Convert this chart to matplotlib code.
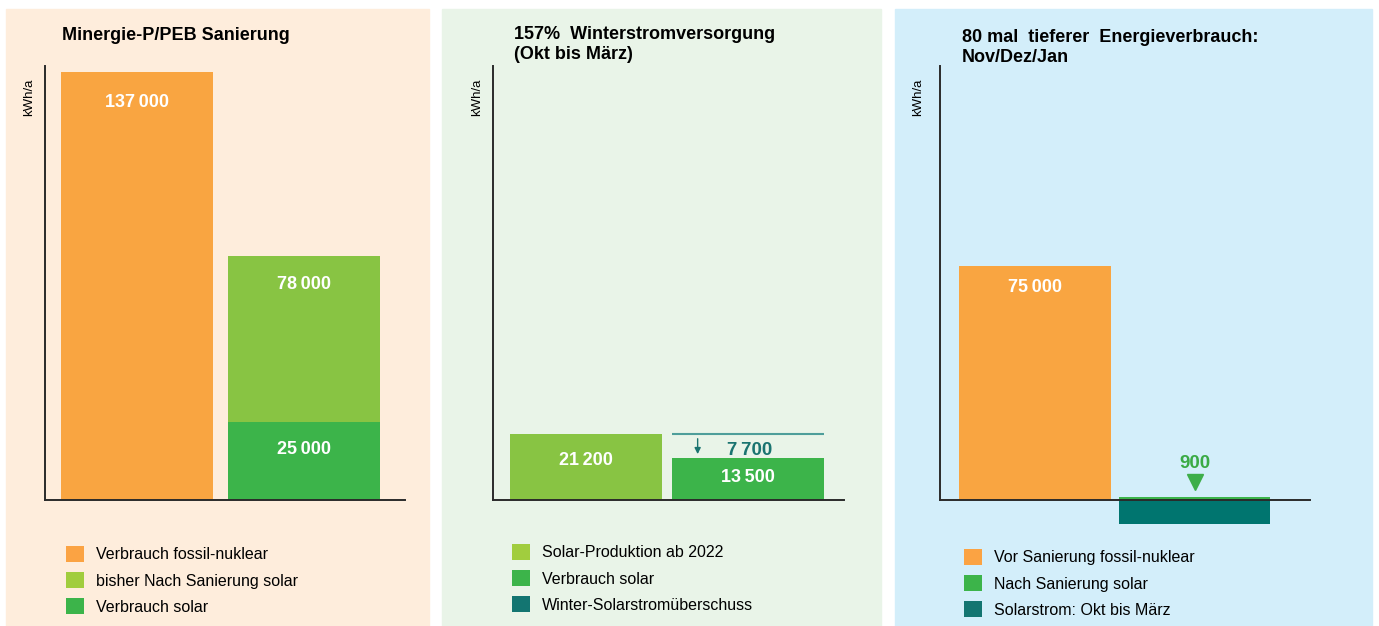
import numpy as np
import matplotlib.pyplot as plt
from matplotlib.patches import Rectangle, Patch

plt.rcParams['font.family'] = ['Liberation Sans', 'DejaVu Sans']

W, H = 1379, 626

# panel 1: Minergie-P/PEB Sanierung
p1_title = 'Minergie-P/PEB Sanierung'
p1_legend = ['Verbrauch fossil-nuklear', 'bisher Nach Sanierung solar', 'Verbrauch solar']
p1_fossil = 137000
p1_solar_total = 78000
p1_solar_used = 25000

# panel 2: Winterstromversorgung
p2_title = '157%  Winterstromversorgung\n(Okt bis März)'
p2_legend = ['Solar-Produktion ab 2022', 'Verbrauch solar', 'Winter-Solarstromüberschuss']
p2_production = 21200
p2_used = 13500
p2_surplus = 7700

# panel 3: Nov/Dez/Jan
p3_title = '80 mal  tieferer  Energieverbrauch:\nNov/Dez/Jan'
p3_legend = ['Vor Sanierung fossil-nuklear', 'Nach Sanierung solar', 'Solarstrom: Okt bis März']
p3_before = 75000
p3_after = 900
p3_winter = -7700

ORANGE = '#F9A541'
LGREEN = '#88C443'
GREEN = '#3CB44A'
TEAL = '#00756F'
LEG_ORANGE = '#FBA343'
LEG_LGREEN = '#A1CD3E'
LEG_TEAL = '#137571'

YMIN, YMAX = -12000, 138900
BW = 1.0


def fmt(v):
    return f'{v:,}'.replace(',', '\u2009')


fig = plt.figure(figsize=(W / 100, H / 100), dpi=100)
fig.patch.set_facecolor('white')

# panel backgrounds
for x0, x1, c in [(6, 429, '#FEEDDC'), (442, 881, '#E9F4E8'), (895, 1372, '#D3EEFA')]:
    fig.add_artist(Rectangle((x0 / W, 0), (x1 - x0) / W, 1 - 9 / H,
                             transform=fig.transFigure, color=c, zorder=-10))


def make_axes(left, right, xlim):
    ax = fig.add_axes([left / W, 1 - 537.5 / H, (right - left) / W, (537.5 - 66) / H])
    ax.set_xlim(xlim)
    ax.set_ylim(YMIN, YMAX)
    ax.patch.set_visible(False)
    for s in ['top', 'right']:
        ax.spines[s].set_visible(False)
    ax.spines['left'].set_bounds(0, YMAX)
    ax.spines['bottom'].set_position(('data', 0))
    for s in ['left', 'bottom']:
        ax.spines[s].set_color('#2a2a2a')
        ax.spines[s].set_linewidth(1.4)
        ax.spines[s].set_zorder(5)
    ax.set_xticks([])
    ax.set_yticks([])
    return ax


def inside(ax, x, v, dy=-28):
    ax.annotate(fmt(v), (x, v), xytext=(0, dy), textcoords='offset pixels',
                ha='center', va='center', color='white', fontsize=13, fontweight='bold')


def legend(ax, colors, labels, x, y):
    handles = [Patch(facecolor=c, edgecolor='none') for c in colors]
    ax.legend(handles, labels, loc='upper left', bbox_to_anchor=(x / W, 1 - y / H),
              bbox_transform=fig.transFigure, frameon=False, fontsize=11.5,
              handlelength=1.15, handleheight=1.15, handletextpad=0.75,
              labelspacing=0.62, borderpad=0, borderaxespad=0)


def headers(x_title, y_title, title, x_unit):
    fig.text(x_title / W, 1 - y_title / H, title, ha='left', va='top',
             fontsize=13, fontweight='bold', linespacing=1.2)
    fig.text(x_unit / W, 1 - 97 / H, 'kWh/a', rotation=90, ha='center', va='center',
             fontsize=9.5)


# ---- panel 1
ax1 = make_axes(45, 405, (-0.605, 1.763))
pos1 = np.array([0, 1.1])
ax1.bar(pos1[0], p1_fossil, BW, color=ORANGE)
ax1.bar(pos1[1], p1_solar_total, BW, color=LGREEN)
ax1.bar(pos1[1], p1_solar_used, BW, color=GREEN)
inside(ax1, pos1[0], p1_fossil, -31)
inside(ax1, pos1[1], p1_solar_total)
inside(ax1, pos1[1], p1_solar_used)
headers(62, 27, p1_title, 29)
legend(ax1, [LEG_ORANGE, LEG_LGREEN, GREEN], p1_legend, 66, 546)

# ---- panel 2
ax2 = make_axes(493, 844, (-0.612, 1.70))
pos2 = np.array([0, 1.066])
ax2.bar(pos2[0], p2_production, BW, color=LGREEN)
ax2.bar(pos2[1], p2_used, BW, color=GREEN)
inside(ax2, pos2[0], p2_production, -27)
inside(ax2, pos2[1], p2_used, -20)
ax2.hlines(p2_production, pos2[1] - BW / 2, pos2[1] + BW / 2, color='#4E9E9A', lw=1.5)
ax_x = pos2[1] - 0.33
ax2.annotate('', xy=(ax_x, p2_used + 300), xytext=(ax_x, p2_production - 700),
             arrowprops=dict(arrowstyle='-|>', color='#1A7470', lw=1, mutation_scale=9))
ax2.annotate(fmt(p2_surplus), (pos2[1], (p2_production + p2_used) / 2), xytext=(2, -5),
             textcoords='offset pixels', ha='center', va='center',
             color='#1A7470', fontsize=13.5, fontweight='bold')
headers(514, 26, p2_title, 477)
legend(ax2, [LEG_LGREEN, GREEN, LEG_TEAL], p2_legend, 512, 544)

# ---- panel 3
ax3 = make_axes(940, 1310, (-0.625, 1.81))
pos3 = np.array([0, 1.05])
ax3.bar(pos3[0], p3_before, BW, color=ORANGE)
ax3.bar(pos3[1], p3_after, BW, color=GREEN)
ax3.bar(pos3[1], p3_winter, BW, color=TEAL)
inside(ax3, pos3[0], p3_before, -22)
ax3.plot([pos3[1]], [p3_after], marker='v', markersize=11, color='#3DAE49',
         transform=ax3.transData + plt.matplotlib.transforms.ScaledTranslation(0, 0.15, fig.dpi_scale_trans),
         clip_on=False)
ax3.annotate(fmt(p3_after), (pos3[1], p3_after), xytext=(0, 34), textcoords='offset pixels',
             ha='center', va='center', color='#3AAA45', fontsize=13.5, fontweight='bold')
headers(962, 29, p3_title, 918)
legend(ax3, [LEG_ORANGE, GREEN, LEG_TEAL], p3_legend, 964, 549)

fig.savefig('out.png', dpi=100)
